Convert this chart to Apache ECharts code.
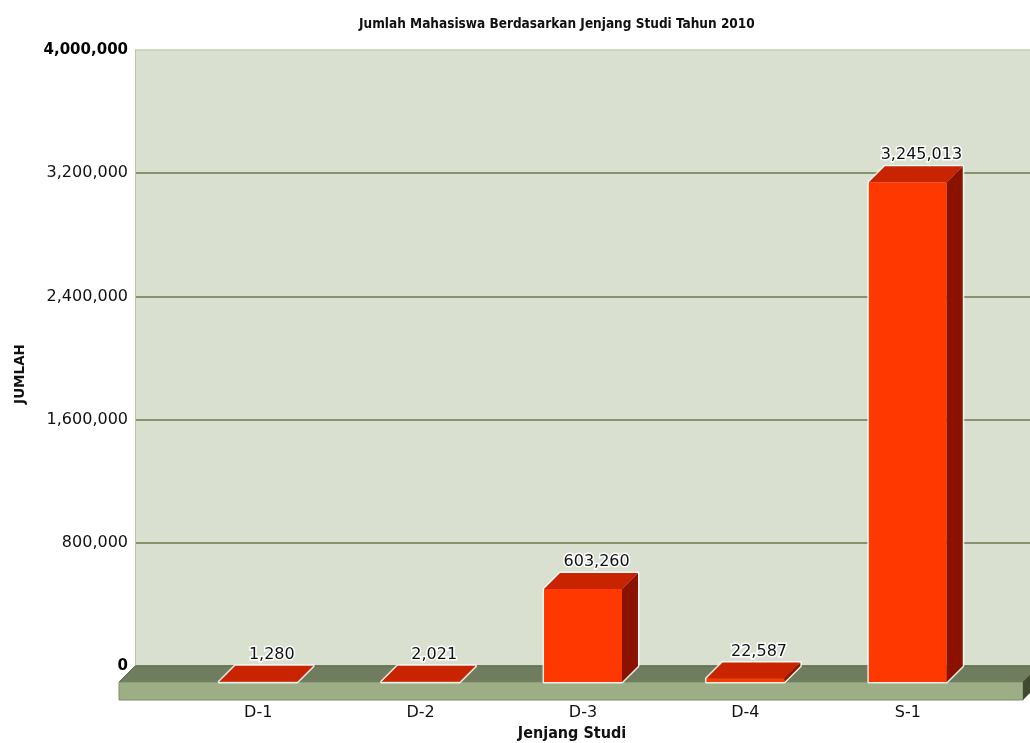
<!DOCTYPE html>
<html><head><meta charset="utf-8">
<script src="https://cdn.jsdelivr.net/npm/echarts@6/dist/echarts.min.js"></script>
<style>html,body{margin:0;padding:0;background:#fff}#c{width:1030px;height:743px}</style>
</head><body><div id="c"></div>
<script>
const titleText = 'Jumlah Mahasiswa Berdasarkan Jenjang Studi Tahun 2010';
const xAxisName = 'Jenjang Studi';
const yAxisName = 'JUMLAH';
const categories = ['D-1', 'D-2', 'D-3', 'D-4', 'S-1'];
const values = [1280, 2021, 603260, 22587, 3245013];
const yMin = 0, yMax = 4000000, yInterval = 800000;

const DX = 16, DY = 16;
const FONT = 'DejaVu Sans';
const fmt = v => v.toLocaleString('en-US');

const chart = echarts.init(document.getElementById('c'), null, {renderer: 'canvas'});

function renderFloor(params, api) {
  const cs = params.coordSys;
  const o = api.coord([0, 0]);
  const bx0 = cs.x, by = o[1];
  const fx0 = bx0 - DX, fy = by + DY;
  const fx1 = cs.x + cs.width - 7;
  const bx1 = fx1 + DX;
  const H = 18;
  return {
    type: 'group', silent: true,
    children: [
      {type: 'polygon', shape: {points: [[bx0, by], [bx1, by], [fx1, fy], [fx0, fy]]},
       style: {fill: '#6f7c5d', stroke: '#5d6a4c', lineWidth: 1}},
      {type: 'rect', shape: {x: fx0, y: fy, width: fx1 - fx0, height: H},
       style: {fill: '#9dae86', stroke: '#7f8f6a', lineWidth: 1}},
      {type: 'polygon', shape: {points: [[fx1, fy], [bx1, by], [bx1, by + H], [fx1, fy + H]]},
       style: {fill: '#3f4a30'}}
    ]
  };
}

function renderBar(params, api) {
  const i = api.value(0), v = api.value(1);
  const p = api.coord([i, v]);
  const b = api.coord([i, 0]);
  const w = api.size([1, 0])[0] * 0.48;
  const xl = p[0] - w / 2, xr = p[0] + w / 2, yt = p[1], yb = b[1];
  const outline = [[xl, yb], [xl, yt], [xl + DX, yt - DY], [xr + DX, yt - DY], [xr + DX, yb - DY], [xr, yb]];
  return {
    type: 'group',
    children: [
      {type: 'polygon', shape: {points: outline},
       style: {fill: 'none', stroke: 'rgba(255,255,255,0.85)', lineWidth: 3, lineJoin: 'round'}},
      {type: 'rect', shape: {x: xl, y: yt, width: w, height: yb - yt}, style: {fill: '#ff3800'}},
      {type: 'polygon', shape: {points: [[xl, yt], [xl + DX, yt - DY], [xr + DX, yt - DY], [xr, yt]]},
       style: {fill: '#c82400'}},
      {type: 'polygon', shape: {points: [[xr, yt], [xr + DX, yt - DY], [xr + DX, yb - DY], [xr, yb]]},
       style: {fill: '#8c1200'}},
      {type: 'text', x: p[0] + DX * 0.85, y: yt - DY - 3,
       style: {text: fmt(v), fill: '#111', font: '16px "' + FONT + '"', align: 'center', verticalAlign: 'bottom',
               stroke: '#ffffff', lineWidth: 3}}
    ]
  };
}

const option = {
  animation: false,
  backgroundColor: '#ffffff',
  title: {
    text: titleText, left: 354, top: 12,
    textStyle: {fontFamily: 'DejaVu Sans Condensed', fontWeight: 'bold', fontSize: 13.5, color: '#111'}
  },
  grid: [
    {left: 135, right: 0, top: 50, bottom: 77, show: true, backgroundColor: '#d9e0cf', borderWidth: 0,
     outerBoundsMode: 'none', containLabel: false},
    {left: 177, width: 812, top: 66, bottom: 61, outerBoundsMode: 'none', containLabel: false}
  ],
  xAxis: [
    {gridIndex: 0, type: 'value', min: 0, max: 1, show: false},
    {gridIndex: 1, type: 'category', data: categories,
     axisLine: {show: false}, axisTick: {show: false},
     axisLabel: {margin: 23, fontFamily: FONT, fontSize: 16, color: '#111'},
     name: xAxisName, nameLocation: 'middle', nameGap: 44,
     nameTextStyle: {fontFamily: 'DejaVu Sans Condensed', fontWeight: 'bold', fontSize: 16, color: '#111', padding: [0, 22, 0, 0]}}
  ],
  yAxis: [
    {gridIndex: 0, type: 'value', min: yMin, max: yMax, interval: yInterval,
     axisLine: {show: true, lineStyle: {color: '#b9c4a8', width: 1}},
     axisTick: {show: false},
     axisLabel: {margin: 7, color: '#111',
       formatter: v => (v === yMin || v === yMax) ? '{b|' + fmt(v) + '}' : fmt(v),
       fontFamily: FONT, fontSize: 16,
       rich: {b: {fontFamily: FONT, fontSize: 15, fontWeight: 'bold', color: '#000'}}},
     splitLine: {show: true, lineStyle: {color: ['#6a7b4c', '#6a7b4c', '#6a7b4c', '#6a7b4c', '#6a7b4c', '#c6cfba'], width: 1.5}},
     name: yAxisName, nameLocation: 'middle', nameRotate: 90, nameGap: 108,
     nameTextStyle: {fontFamily: FONT, fontWeight: 'bold', fontSize: 13.5, color: '#111', padding: [0, 32, 0, 0]}},
    {gridIndex: 1, type: 'value', min: yMin, max: yMax, show: false}
  ],
  series: [
    {type: 'custom', xAxisIndex: 0, yAxisIndex: 0, data: [[0, 0]], renderItem: renderFloor, z: 3, silent: true},
    {type: 'custom', xAxisIndex: 1, yAxisIndex: 1, data: values.map((v, i) => [i, v]), renderItem: renderBar, z: 5}
  ]
};
chart.setOption(option);
</script></body></html>
